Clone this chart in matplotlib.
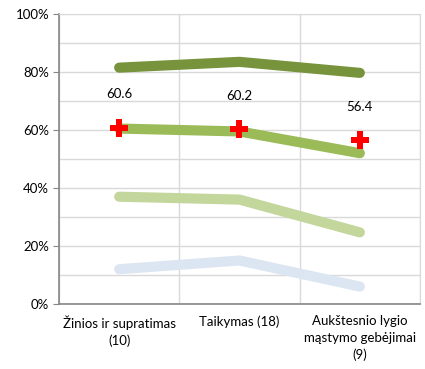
import matplotlib.pyplot as plt
from matplotlib.ticker import MultipleLocator, FuncFormatter

plt.rcParams['font.family'] = ['Lato', 'DejaVu Sans']

# categories and series (percent)
categories = ['Žinios ir supratimas\n(10)', 'Taikymas (18)', 'Aukštesnio lygio\nmąstymo gebėjimai\n(9)']
dark_green = [81.5, 83.5, 79.7]
mid_green = [60.5, 59.5, 52.0]
light_green = [37.0, 36.0, 24.7]
light_blue = [12.0, 15.0, 6.0]
average = [60.6, 60.2, 56.4]

fig = plt.figure(figsize=(4.25, 3.69), dpi=100)
ax = fig.add_axes([59 / 425, 1 - 304 / 369, 361 / 425, 290 / 369])

x = [i + 0.5 for i in range(len(categories))]
lw = 7.3
ax.plot(x, light_blue, color='#DCE6F2', lw=lw, solid_capstyle='round', solid_joinstyle='round')
ax.plot(x, light_green, color='#C3D69B', lw=lw, solid_capstyle='round', solid_joinstyle='round')
ax.plot(x, mid_green, color='#9BBB59', lw=lw, solid_capstyle='round', solid_joinstyle='round')
ax.plot(x, dark_green, color='#77933C', lw=lw, solid_capstyle='round', solid_joinstyle='round')
ax.plot(x, average, linestyle='none', marker='P', markersize=13.5, color='#FF0000',
        markeredgewidth=0)

for xi, v in zip(x, average):
    ax.annotate(f'{v:.1f}', (xi, v), xytext=(0, 20), textcoords='offset points',
                ha='center', va='bottom', fontsize=9.5)

ax.set_xlim(0, 3)
ax.set_ylim(0, 100)
ax.yaxis.set_major_locator(MultipleLocator(20))
ax.yaxis.set_minor_locator(MultipleLocator(10))
ax.yaxis.set_major_formatter(FuncFormatter(lambda v, p: f'{v:.0f}%'))
ax.set_xticks([0, 1, 2, 3])
ax.set_xticklabels([])
ax.set_xticks(x, minor=True)
ax.set_xticklabels(categories, minor=True, fontsize=9.5, linespacing=1.45)
ax.tick_params(axis='x', which='minor', length=0, pad=8)
ax.tick_params(axis='x', which='major', length=0)
ax.tick_params(axis='y', which='major', length=4, color='#868686', labelsize=9.5, pad=3)
ax.tick_params(axis='y', which='minor', length=0)

ax.grid(True, which='both', axis='y', color='#D9D9D9', lw=1)
ax.grid(True, which='major', axis='x', color='#D9D9D9', lw=1)
ax.set_axisbelow(True)
for side in ['top', 'right']:
    ax.spines[side].set_color('#D9D9D9')
for side in ['left', 'bottom']:
    ax.spines[side].set_color('#868686')
    ax.spines[side].set_linewidth(1.2)

fig.savefig('out.png', dpi=100)
